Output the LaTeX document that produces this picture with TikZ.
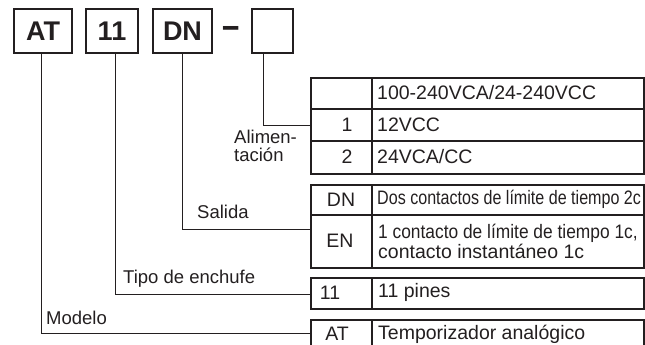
\documentclass[tikz,border=0pt]{standalone}
\usepackage{graphicx}
\usepackage{fontspec}
\setmainfont{Liberation Sans}
\definecolor{ink}{RGB}{35,31,32}
\begin{document}
\begin{tikzpicture}[x=1pt,y=-1pt,
  tbl/.style={draw=ink,line width=1.8pt,minimum width=333pt,anchor=north west,inner sep=0pt},
  grid/.style={draw=ink,line width=1.5pt},
  conn/.style={draw=ink,line width=1pt},
  codebox/.style={draw=ink,line width=1.8pt,minimum height=44pt,inner sep=0pt,font=\fontsize{27}{30}\selectfont\bfseries,text=ink},
  txt/.style={font=\fontsize{18.5}{20}\selectfont,text=ink,inner sep=0pt},
  val/.style={font=\fontsize{19.5}{20}\selectfont,text=ink,inner sep=0pt},
]
\useasboundingbox (0,0) rectangle (645,345);
% code boxes
\node[codebox,minimum width=58pt] (bAT) at (43,31) {AT};
\node[codebox,minimum width=52pt] (bOne) at (112,31) {11};
\node[codebox,minimum width=59pt] (bDN) at (182.5,31) {DN};
\node[codebox,minimum width=41pt] (bE) at (272.5,31) {};
\node[font=\fontsize{27}{30}\selectfont\bfseries,text=ink,inner sep=0pt,anchor=base] (dash) at (231.5,38.5) {\scalebox{1.15}[1.4]{–}};
% tables
\node[tbl,minimum height=96pt] (tA) at (310,77) {};
\draw[grid] (372,77) -- (372,173);
\draw[grid] (310,109) -- (643,109);
\draw[grid] (310,141) -- (643,141);
\node[tbl,minimum height=83pt] (tB) at (310,184) {};
\draw[grid] (372,184) -- (372,267);
\draw[grid] (310,215) -- (643,215);
\node[tbl,minimum height=31pt] (tC) at (310,277) {};
\draw[grid] (372,277) -- (372,308);
\node[tbl,minimum height=27pt] (tD) at (310,319) {};
\draw[grid] (372,319) -- (372,346);
% connectors
\draw[conn] ([xshift=-9.5pt]bE.south) |- (tA.west);
\draw[conn] (bDN.south) |- ([yshift=-3.5pt]tB.west);
\draw[conn] ([xshift=3.5pt]bOne.south) |- ([yshift=-1.5pt]tC.west);
\draw[conn] ([xshift=-1.5pt]bAT.south) |- (tD.west);
% table texts
\node[val,anchor=west] (vA0) at (377,93) {100-240VCA/24-240VCC};
\node[val] (kA1) at (347,125) {1};
\node[val,anchor=west] (vA1) at (377,125) {12VCC};
\node[val] (kA2) at (347,157) {2};
\node[val,anchor=west] (vA2) at (377,157) {24VCA/CC};
\node[val] (kB1) at (341,199.5) {DN};
\node[val,anchor=west] (vB1) at (377,199.5) {\scalebox{0.825}[1]{Dos contactos de límite de tiempo 2c}};
\node[val] (kB2) at (340,241) {EN};
\node[val,anchor=west,align=left] (vB2) at (378,241) {\scalebox{0.89}[1]{1 contacto de límite de tiempo 1c,}\\contacto instantáneo 1c};
\node[val] (kC) at (330,292.5) {11};
\node[val,anchor=west] (vC) at (378,292.5) {11 pines};
\node[val] (kD) at (337,334) {AT};
\node[val,anchor=west] (vD) at (378,334) {Temporizador analógico};
% labels
\node[txt,anchor=west,align=left,font=\fontsize{18.5}{18}\selectfont] (lA) at (234,146) {Alimen-\\tación};
\node[txt,anchor=west] (lB) at (197,212) {Salida};
\node[txt,anchor=west] (lC) at (123,279) {Tipo de enchufe};
\node[txt,anchor=west] (lD) at (46,318) {Modelo};
\end{tikzpicture}
\end{document}
